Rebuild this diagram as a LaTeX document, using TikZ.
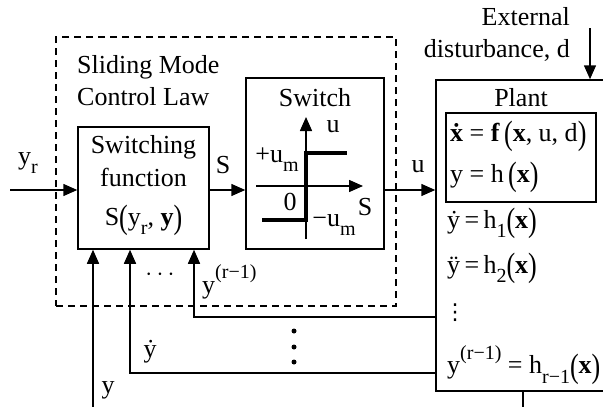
\documentclass[tikz,border=0pt]{standalone}
\usepackage{fontspec}
\setmainfont{Liberation Serif}
\newfontfamily\dejavu{DejaVu Sans}
\usetikzlibrary{arrows.meta}
\newcommand{\tallp}[1]{\raisebox{-0.12em}{\scalebox{1}[1.3]{#1}}}
\newcommand{\subr}[1]{\raisebox{-0.35em}{\fontsize{20}{20}\selectfont #1}}
\newcommand{\supr}[1]{\raisebox{0.55em}{\fontsize{20}{20}\selectfont #1}}
\begin{document}
\begin{tikzpicture}[x=1pt,y=-1pt,
  every node/.style={font=\fontsize{26}{30}\selectfont, inner sep=0pt},
  line/.style={line width=1.5pt},
  arr/.style={line width=1.5pt, -{Triangle[length=14pt,width=12pt]}},
  box/.style={draw, line width=1.5pt, rectangle, inner sep=0pt},
  dbox/.style={draw, line width=1.5pt, dash pattern=on 7pt off 5pt, rectangle, inner sep=0pt},
  thick/.style={line width=3.5pt}]
\useasboundingbox (0,0) rectangle (603,407);

% boxes
\node[dbox, minimum width=340pt, minimum height=269pt] (smc) at (226,171.5) {};
\node[box, minimum width=131pt, minimum height=122pt] (swf) at (143.5,188) {};
\node[box, minimum width=138pt, minimum height=171pt] (swt) at (315,163.5) {};
\node[box, minimum width=174pt, minimum height=311pt] (plant) at (523,235.5) {};
\node[box, minimum width=150pt, minimum height=89pt] (dyn) at (521,157.5) {};

% coordinates
\coordinate (sig) at (0,190);
\coordinate (yrin) at (10,190);
\coordinate (dtop) at (590,28);
\coordinate (pout) at (523,407);
\coordinate (fb1) at (194,317);
\coordinate (fb2) at (130,373);
\coordinate (fb3) at (93,407);

% connectors
\draw[arr] (yrin) -- (swf.west |- sig);
\draw[arr] (swf.east |- sig) -- (swt.west |- sig);
\draw[arr] (swt.east |- sig) -- (plant.west |- sig);
\draw[arr] (dtop) -- (dtop |- plant.north);
\draw[line] (plant.south -| pout) -- (pout);
\draw[arr] (plant.west |- fb1) -- (fb1) -- (fb1 |- swf.south);
\draw[arr] (plant.west |- fb2) -- (fb2) -- (fb2 |- swf.south);
\draw[arr] (fb3) -- (fb3 |- swf.south);

% switch characteristic
\coordinate (vb) at (306,239);
\coordinate (vt) at (306,117);
\coordinate (hl) at (256,186);
\coordinate (hr) at (363,186);
\draw[arr] (vb) -- (vt);
\draw[arr] (hl) -- (hr);
\draw[thick] (262,220) -- (306,220) -- (306,153) -- (347,153);

% labels
\node[anchor=west] (l1) at (77,67) {Sliding Mode};
\node[anchor=west] (l2) at (77,97) {Control Law};
\node (t1) at (143.5,147) {Switching};
\node (t2) at (143.5,177) {function};
\node (t3) at (143.5,220) {S\tallp{(}y\subr{r}, \textbf{y}\tallp{)}};
\node (lyr) at (28,163) {y\subr{r}};
\node (lS) at (223,165) {S};
\node (lu) at (418,167) {u};
\node (tsw) at (315,98) {Switch};
\node (lu2) at (333,127) {u};
\node (lum) at (277,160) {+u\subr{m}};
\node (l0) at (290,202) {0};
\node (lS2) at (365,207) {S};
\node (lmum) at (334,225) {−u\subr{m}};
\node[anchor=east] (ext1) at (570,17) {External};
\node[anchor=east] (ext2) at (570,50) {disturbance, d};
\node (tpl) at (521,98) {Plant};
\node[anchor=west] (e1) at (450,136) {\textbf{\.{x}} = \textbf{f}\,\tallp{(}\textbf{x}, u, d\tallp{)}};
\node[anchor=west] (e2) at (450,177) {y = h\,\tallp{(}\textbf{x}\tallp{)}};
\node[anchor=west] (e3) at (447,223) {\.{y}\,=\,h\subr{1}\tallp{(}\textbf{x}\tallp{)}};
\node[anchor=west] (e4) at (447,268) {\"{y}\,=\,h\subr{2}\tallp{(}\textbf{x}\tallp{)}};
\node[anchor=west] (e5) at (444,313) {\dejavu\fontsize{22}{22}\selectfont ⋮};
\node[anchor=west] (e6) at (447,365) {y\supr{(r−1)} = h\subr{r−1}\tallp{(}\textbf{x}\tallp{)}};
\node (ldots) at (160,275) {$\cdots$};
\node[anchor=west] (lyr1) at (202,282) {y\supr{(r−1)}};
\node (lyd) at (150,352) {\.{y}};
\node (ly) at (108,390) {y};
\fill (294,331) circle (2.5pt) (294,347) circle (2.5pt) (294,362) circle (2.5pt);
\end{tikzpicture}
\end{document}
